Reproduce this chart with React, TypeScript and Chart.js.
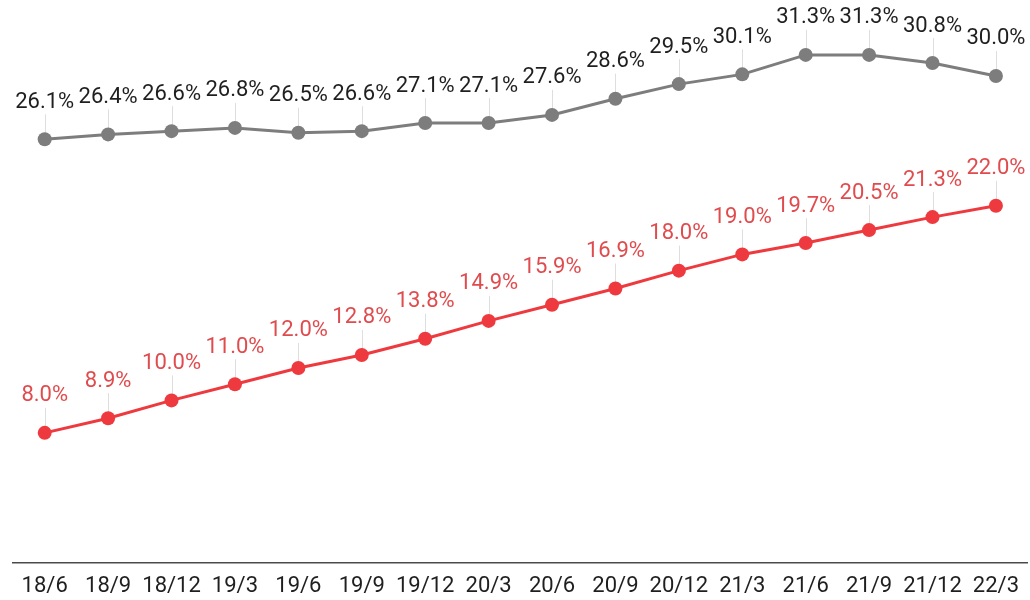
import React, { useEffect, useRef } from "react";
import { Chart, registerables } from "chart.js";

Chart.register(...registerables);

const categories = [
  "18/6", "18/9", "18/12", "19/3", "19/6", "19/9", "19/12", "20/3",
  "20/6", "20/9", "20/12", "21/3", "21/6", "21/9", "21/12", "22/3",
];
const graySeries = [26.1, 26.4, 26.6, 26.8, 26.5, 26.6, 27.1, 27.1, 27.6, 28.6, 29.5, 30.1, 31.3, 31.3, 30.8, 30.0];
const redSeries = [8.0, 8.9, 10.0, 11.0, 12.0, 12.8, 13.8, 14.9, 15.9, 16.9, 18.0, 19.0, 19.7, 20.5, 21.3, 22.0];

const FONT = "Roboto, 'Noto Sans', sans-serif";
const GRAY = "#7d7d7d";
const RED = "#ee3a3e";
const labelColors = ["#1f1f1f", "#e04b4e"];

// Draws value labels above each point with a faint leader line down to the point.
const valueLabels = {
  id: "valueLabels",
  beforeDatasetsDraw(chart: any) {
    const ctx = chart.ctx;
    ctx.save();
    ctx.strokeStyle = "rgba(200,200,200,0.6)";
    ctx.lineWidth = 1;
    chart.data.datasets.forEach((_ds: any, i: number) => {
      chart.getDatasetMeta(i).data.forEach((pt: any) => {
        ctx.beginPath();
        ctx.moveTo(Math.round(pt.x) + 0.5, pt.y - 25);
        ctx.lineTo(Math.round(pt.x) + 0.5, pt.y - 6);
        ctx.stroke();
      });
    });
    ctx.restore();
  },
  afterDatasetsDraw(chart: any) {
    const ctx = chart.ctx;
    ctx.save();
    ctx.font = `22px ${FONT}`;
    ctx.textAlign = "center";
    ctx.textBaseline = "middle";
    chart.data.datasets.forEach((ds: any, i: number) => {
      ctx.fillStyle = labelColors[i];
      chart.getDatasetMeta(i).data.forEach((pt: any, j: number) => {
        ctx.fillText(ds.data[j].toFixed(1) + "%", pt.x, pt.y - 37);
      });
    });
    ctx.restore();
  },
};

export default function App() {
  const ref = useRef<HTMLCanvasElement>(null);

  useEffect(() => {
    if (!ref.current) return;
    const chart = new Chart(ref.current, {
      type: "line",
      data: {
        labels: categories,
        datasets: [
          {
            data: graySeries,
            borderColor: GRAY,
            backgroundColor: GRAY,
            borderWidth: 3,
            pointRadius: 7,
            pointBackgroundColor: GRAY,
            pointBorderWidth: 0,
            tension: 0,
            clip: false,
          },
          {
            data: redSeries,
            borderColor: RED,
            backgroundColor: RED,
            borderWidth: 3,
            pointRadius: 7,
            pointBackgroundColor: RED,
            pointBorderWidth: 0,
            tension: 0,
            clip: false,
          },
        ],
      },
      options: {
        animation: false,
        responsive: false,
        maintainAspectRatio: false,
        devicePixelRatio: 1,
        layout: { autoPadding: false, padding: { left: 13, top: 3, right: -3, bottom: -11 } },
        plugins: {
          legend: { display: false },
          tooltip: { enabled: false },
        },
        scales: {
          x: {
            type: "category",
            offset: true,
            grid: { display: false, drawTicks: false },
            border: { display: true, color: "#4a4a4a", width: 1.5 },
            ticks: {
              color: "#1f1f1f",
              font: { family: FONT, size: 22 },
              padding: 11,
              maxRotation: 0,
              autoSkip: false,
            },
          },
          y: {
            display: false,
            min: 0,
            max: 34.5,
          },
        },
      },
      plugins: [valueLabels],
    });
    return () => chart.destroy();
  }, []);

  return (
    <div style={{ position: "absolute", left: 0, top: 0, width: 1030, height: 600, background: "#fff" }}>
      <canvas ref={ref} width={1030} height={600} style={{ display: "block", width: 1030, height: 600 }} />
    </div>
  );
}
